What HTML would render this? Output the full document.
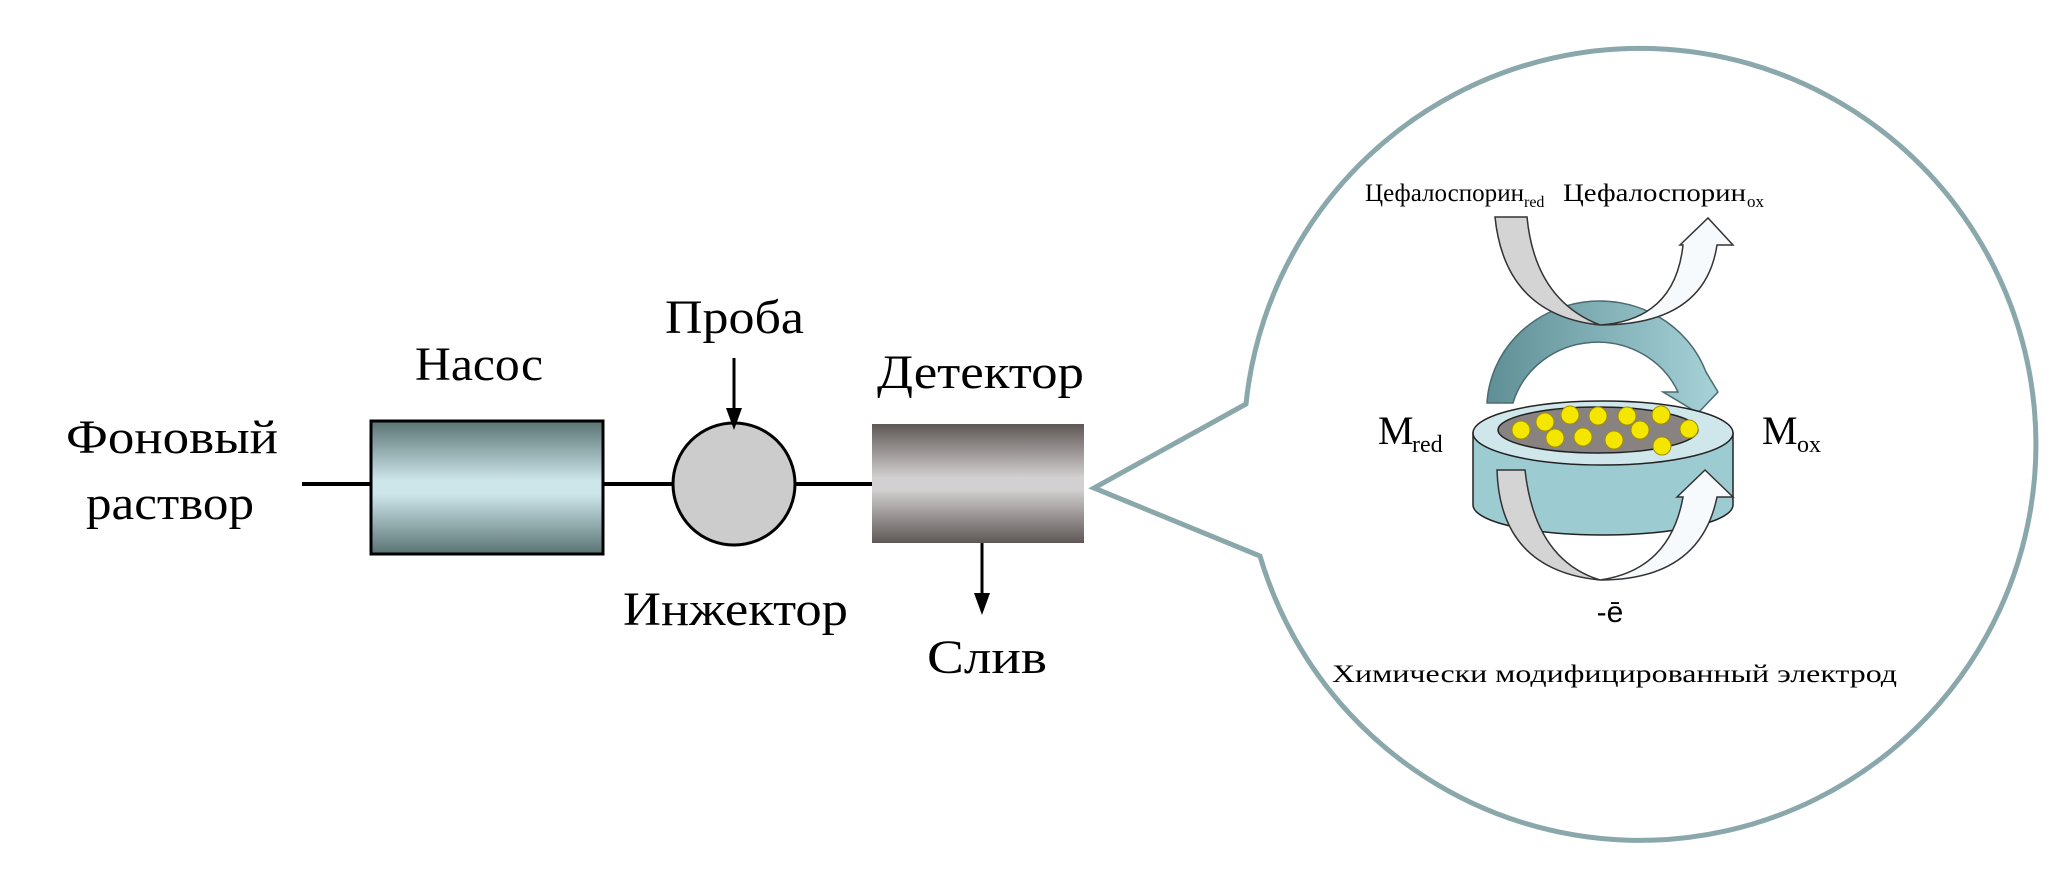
<!DOCTYPE html>
<html><head><meta charset="utf-8"><style>html,body{margin:0;padding:0;background:#fff}svg{display:block}</style></head>
<body>
<svg width="2067" height="886" viewBox="0 0 2067 886" xmlns="http://www.w3.org/2000/svg" font-family="'Liberation Serif', serif">
<defs>
<linearGradient id="pump" x1="0" y1="0" x2="0" y2="1">
<stop offset="0" stop-color="#5a7373"/><stop offset="0.45" stop-color="#cde6ea"/><stop offset="0.55" stop-color="#cde6ea"/><stop offset="1" stop-color="#5a7373"/></linearGradient>
<linearGradient id="det" x1="0" y1="0" x2="0" y2="1">
<stop offset="0" stop-color="#5e5755"/><stop offset="0.45" stop-color="#d2d0d0"/><stop offset="0.55" stop-color="#d2d0d0"/><stop offset="1" stop-color="#5e5755"/></linearGradient>
<linearGradient id="teal" x1="0" y1="0" x2="1" y2="0">
<stop offset="0" stop-color="#5f8f96"/><stop offset="1" stop-color="#a6d2d8"/></linearGradient>
</defs>
<line x1="302" y1="484" x2="872" y2="484" stroke="#000" stroke-width="4"/>
<rect x="371" y="421" width="232" height="133" fill="url(#pump)" stroke="#000" stroke-width="3"/>
<circle cx="734" cy="484" r="61" fill="#cccccc" stroke="#000" stroke-width="3"/>
<rect x="872" y="424" width="212" height="119" fill="url(#det)"/>
<line x1="734" y1="358" x2="734" y2="410" stroke="#000" stroke-width="3"/>
<polygon points="726,408 742,408 734,430" fill="#000"/>
<line x1="982" y1="543" x2="982" y2="595" stroke="#000" stroke-width="3"/>
<polygon points="974,593 990,593 982,615" fill="#000"/>
<g font-size="48" fill="#000">
<text x="66" y="453" textLength="212" lengthAdjust="spacingAndGlyphs">Фоновый</text>
<text x="86" y="519" textLength="168" lengthAdjust="spacingAndGlyphs">раствор</text>
<text x="415" y="380" textLength="128" lengthAdjust="spacingAndGlyphs">Насос</text>
<text x="665" y="333" textLength="139" lengthAdjust="spacingAndGlyphs">Проба</text>
<text x="877" y="388" textLength="207" lengthAdjust="spacingAndGlyphs">Детектор</text>
<text x="623" y="625" textLength="225" lengthAdjust="spacingAndGlyphs">Инжектор</text>
<text x="927" y="673" textLength="120" lengthAdjust="spacingAndGlyphs">Слив</text>
</g>
<path d="M1246,404 L1094,488 L1260,556 A396,396 0 1 0 1246,404 Z" fill="#fff" stroke="#8aa8ab" stroke-width="5" stroke-linejoin="miter"/>
<path d="M1487,403 A113,108 0 0 1 1706,372 L1718,392 L1698,413 L1663,392 L1678,392 A88,84 0 0 0 1513,403 Z" fill="url(#teal)" stroke="#4a6b70" stroke-width="1.5"/>
<path d="M1495,217 L1527,217 Q1535,300 1600,325 Q1505,315 1495,217 Z" fill="#d4d4d4" stroke="#333" stroke-width="1.5"/>
<path d="M1600,325 Q1675,320 1683,245 L1680,245 L1708,218 L1733,245 L1717,245 Q1705,325 1600,325 Z" fill="#f6fafc" stroke="#333" stroke-width="1.5"/>
<path d="M1473,433 L1473,505 A130,30 0 0 0 1733,505 L1733,433 Z" fill="#9ccbd2" stroke="#222" stroke-width="1.5"/>
<ellipse cx="1603" cy="433" rx="130" ry="32" fill="#cfe7eb" stroke="#222" stroke-width="1.5"/>
<ellipse cx="1598" cy="430" rx="100" ry="23" fill="#888280" stroke="#222" stroke-width="1.5"/>
<g fill="#f5e600" stroke="#a09000" stroke-width="1">
<circle cx="1521" cy="430" r="9"/><circle cx="1545" cy="422" r="9"/><circle cx="1570" cy="415" r="9"/>
<circle cx="1598" cy="416" r="9"/><circle cx="1627" cy="416" r="9"/><circle cx="1661" cy="415" r="9"/>
<circle cx="1555" cy="438" r="9"/><circle cx="1583" cy="437" r="9"/><circle cx="1614" cy="440" r="9"/>
<circle cx="1640" cy="430" r="9"/><circle cx="1662" cy="446" r="9"/><circle cx="1689" cy="429" r="9"/>
</g>
<path d="M1497,470 L1525,470 Q1535,560 1600,580 Q1500,570 1497,470 Z" fill="#d4d4d4" stroke="#333" stroke-width="1.5"/>
<path d="M1600,580 Q1670,570 1683,497 L1677,497 L1705,470 L1733,497 L1717,497 Q1700,580 1600,580 Z" fill="#f6fafc" stroke="#333" stroke-width="1.5"/>
<text x="1365" y="201" font-size="25" textLength="159" lengthAdjust="spacingAndGlyphs">Цефалоспорин</text>
<text x="1524" y="207" font-size="16">red</text>
<text x="1563" y="201" font-size="25" textLength="183" lengthAdjust="spacingAndGlyphs">Цефалоспорин</text>
<text x="1747" y="207" font-size="17">ox</text>
<text x="1378" y="444" font-size="40">M</text>
<text x="1412" y="452" font-size="24">red</text>
<text x="1762" y="444" font-size="40">M</text>
<text x="1797" y="452" font-size="24">ox</text>
<text x="1610" y="622" font-size="30" text-anchor="middle" font-family="'Liberation Sans', sans-serif">-ē</text>
<text x="1332" y="682" font-size="25" textLength="565" lengthAdjust="spacingAndGlyphs">Химически  модифицированный электрод</text>
</svg>
</body></html>
